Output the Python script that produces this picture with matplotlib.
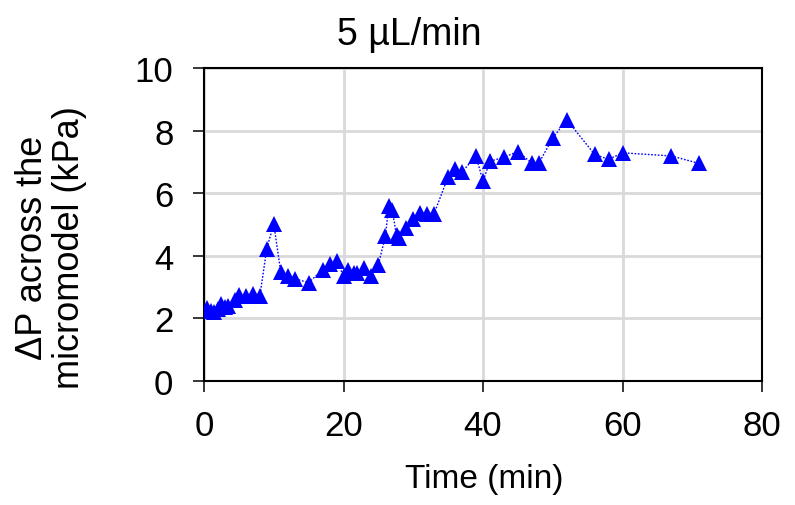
import matplotlib
matplotlib.use('Agg')
import matplotlib.pyplot as plt

### Data

time_min = [0.5, 1, 1.5, 2, 2.5, 3, 3.5, 4.5, 5, 6, 7, 8, 9, 10, 11, 12, 13,
            15, 17, 18, 19, 20, 20.7, 21.5, 22, 23, 24, 25, 26, 26.5, 27,
            27.6, 28, 29, 30, 31, 32, 33, 35, 36, 37, 39, 40, 41, 43, 45,
            47, 48, 50, 52, 56, 58, 60, 67, 71]
dp_kpa = [2.33, 2.25, 2.2, 2.3, 2.45, 2.35, 2.4, 2.6, 2.75, 2.7, 2.78, 2.7,
          4.23, 5.02, 3.49, 3.36, 3.27, 3.14, 3.56, 3.73, 3.84, 3.36, 3.55,
          3.45, 3.45, 3.62, 3.36, 3.72, 4.62, 5.6, 5.45, 4.65, 4.58, 4.88,
          5.18, 5.38, 5.35, 5.35, 6.53, 6.76, 6.68, 7.19, 6.38, 7.02, 7.15,
          7.33, 6.96, 6.96, 7.76, 8.35, 7.24, 7.08, 7.29, 7.19, 6.95]

xticks = [0, 20, 40, 60, 80]
yticks = [0, 2, 4, 6, 8, 10]

plt.rcParams['font.family'] = ['Liberation Sans', 'DejaVu Sans']

### Plot

W, H = 795, 506
fig = plt.figure(figsize=(W / 100, H / 100), dpi=100)
ax = fig.add_axes([204 / W, 1 - 382 / H, 558 / W, 313 / H])

ax.plot(time_min, dp_kpa, color='#0000ff', linestyle=(0, (1.2, 1.2)),
        linewidth=1.0, marker='^', markersize=11, markeredgewidth=0,
        zorder=3)

ax.set_xlim(0, 80)
ax.set_ylim(0, 10)
ax.set_xticks(xticks)
ax.set_yticks(yticks)
ax.grid(True, color='#d9d9d9', linewidth=2)
ax.set_axisbelow(True)
for s in ax.spines.values():
    s.set_linewidth(1.5)
ax.tick_params(axis='both', direction='out', length=8, width=1.1,
               labelsize=25)
ax.tick_params(axis='x', pad=12)
ax.tick_params(axis='y', pad=14)

fig.text(409 / W, 1 - 45 / H, '5 µL/min', fontsize=27, ha='center',
         va='baseline')
fig.text(484 / W, 1 - 488 / H, 'Time (min)', fontsize=24, ha='center',
         va='baseline')
fig.text(51 / W, 1 - 248 / H, 'ΔP across the\nmicromodel (kPa)', fontsize=26,
         rotation=90, ha='center', va='center', multialignment='center',
         linespacing=1.1)

fig.savefig('out.png', dpi=100)
